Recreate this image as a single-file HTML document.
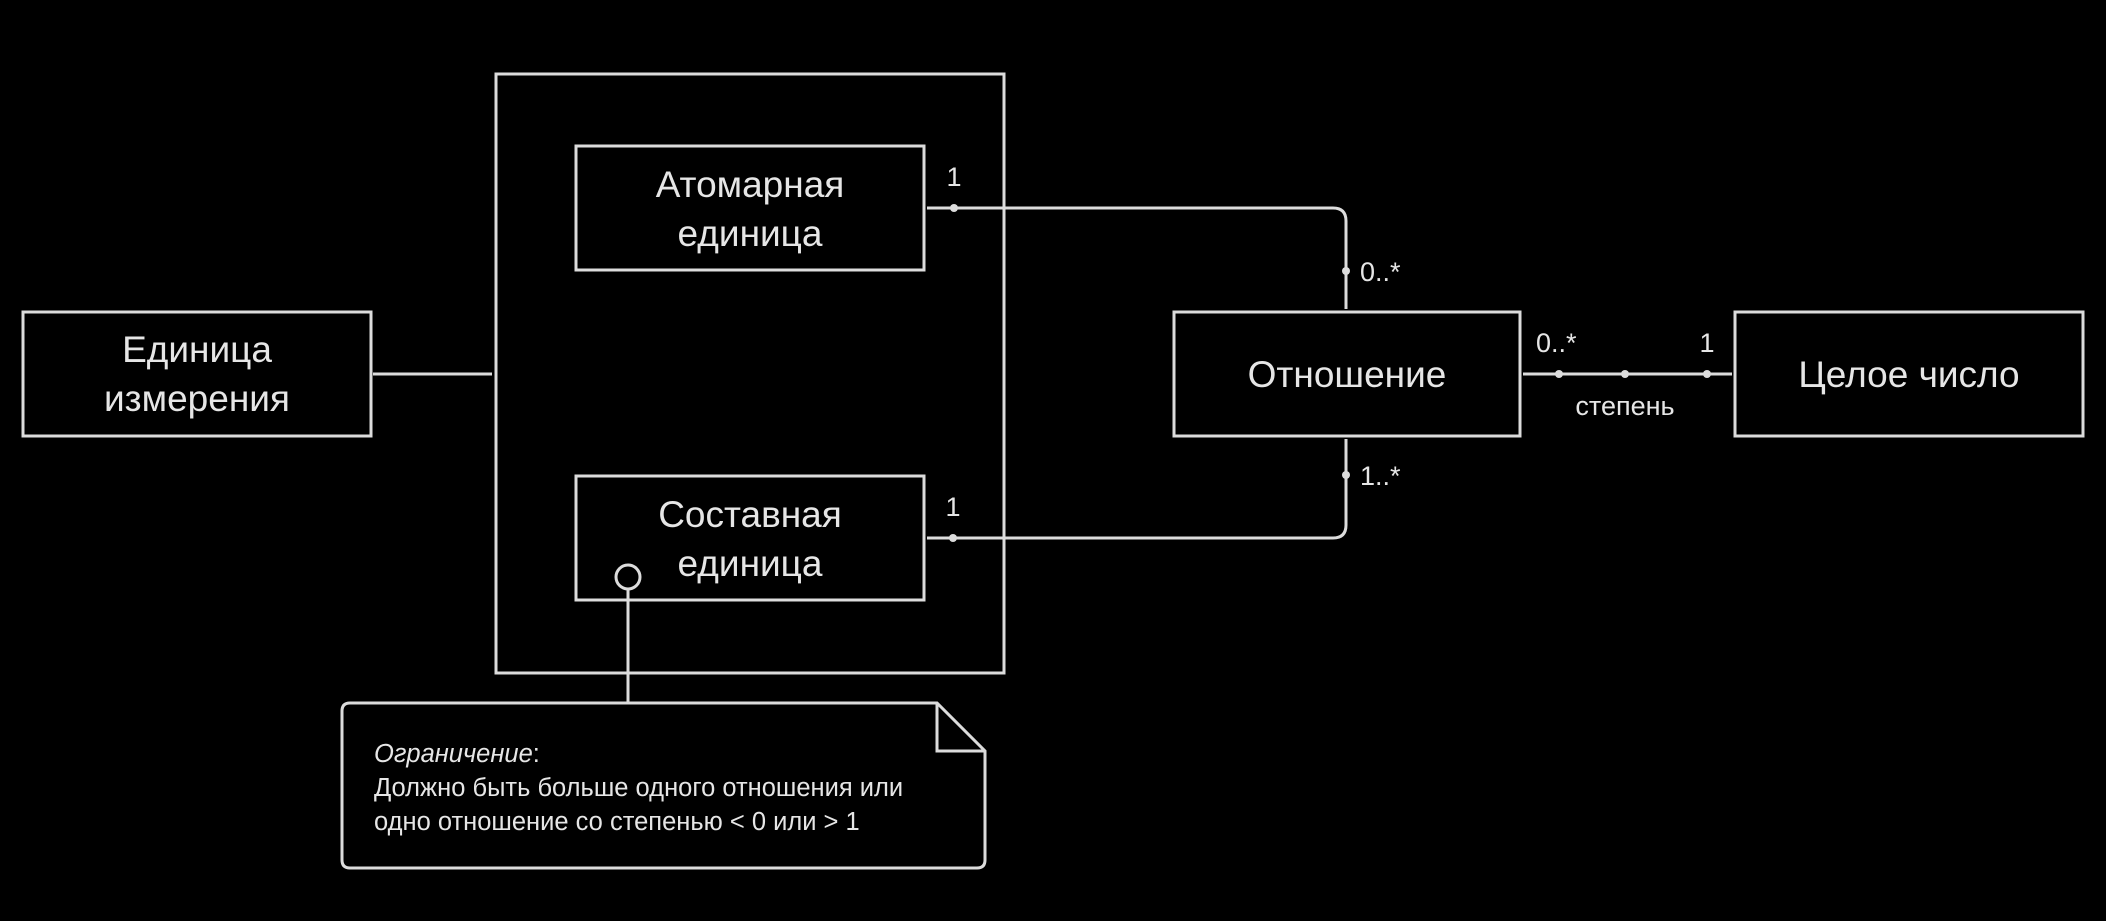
<!DOCTYPE html>
<html><head><meta charset="utf-8"><style>
html,body{margin:0;padding:0;background:#000;}
svg{display:block}
text{font-family:"Liberation Sans","DejaVu Sans",sans-serif;fill:#e6e6e6}
</style></head><body>
<svg width="2106" height="921" viewBox="0 0 2106 921" xmlns="http://www.w3.org/2000/svg">
<g fill="none" stroke="#dcdcdc" stroke-width="3">
<rect x="496" y="74" width="508" height="599"/>
<rect x="576" y="146" width="348" height="124"/>
<rect x="576" y="476" width="348" height="124"/>
<rect x="23" y="312" width="348" height="124"/>
<rect x="1174" y="312" width="346" height="124"/>
<rect x="1735" y="312" width="348" height="124"/>
<line x1="373" y1="374" x2="492" y2="374"/>
<path d="M927 208 H1333 Q1346 208 1346 221 V309"/>
<path d="M927 538 H1333 Q1346 538 1346 525 V439"/>
<line x1="1523" y1="374" x2="1732" y2="374"/>
<circle cx="628" cy="577" r="12"/>
<line x1="628" y1="589" x2="628" y2="703"/>
<path d="M350 703 H937 L985 751 V860 Q985 868 977 868 H350 Q342 868 342 860 V711 Q342 703 350 703 Z"/>
<path d="M937 703 V751 H985"/>
</g>
<g fill="#dcdcdc">
<circle cx="954" cy="208" r="4"/>
<circle cx="953" cy="538" r="4"/>
<circle cx="1346" cy="271" r="4"/>
<circle cx="1346" cy="475" r="4"/>
<circle cx="1559" cy="374" r="4"/>
<circle cx="1625" cy="374" r="4"/>
<circle cx="1707" cy="374" r="4"/>
</g>
<g font-size="37" text-anchor="middle">
<text x="750" y="197">Атомарная</text>
<text x="750" y="246">единица</text>
<text x="750" y="527">Составная</text>
<text x="750" y="576">единица</text>
<text x="197" y="362">Единица</text>
<text x="197" y="411">измерения</text>
<text x="1347" y="387">Отношение</text>
<text x="1909" y="387">Целое число</text>
</g>
<g font-size="27" fill="#d8d8d8">
<text x="954" y="186" text-anchor="middle">1</text>
<text x="953" y="516" text-anchor="middle">1</text>
<text x="1360" y="281">0..*</text>
<text x="1360" y="485">1..*</text>
<text x="1536" y="352">0..*</text>
<text x="1707" y="352" text-anchor="middle">1</text>
<text x="1625" y="415" text-anchor="middle">степень</text>
</g>
<g font-size="25.5" style="fill:#cfcfcf">
<text x="374" y="762"><tspan font-style="italic">Ограничение</tspan>:</text>
<text x="374" y="796">Должно быть больше одного отношения или</text>
<text x="374" y="830">одно отношение со степенью &lt; 0 или &gt; 1</text>
</g>
</svg>
</body></html>
